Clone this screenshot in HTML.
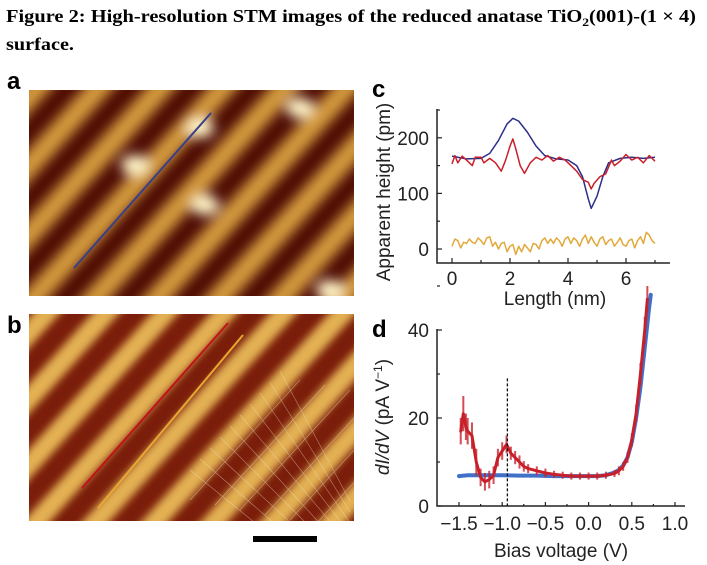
<!DOCTYPE html>
<html style="overflow:hidden"><head><meta charset="utf-8">
<style>
html,body{margin:0;padding:0;background:#fff;width:707px;height:565px;overflow:hidden}
svg{display:block;font-family:"Liberation Sans",sans-serif}
</style></head>
<body>
<svg id="fig" width="707" height="565" viewBox="0 0 707 565">
<defs>
<filter id="blurA" x="-10%" y="-10%" width="120%" height="120%"><feGaussianBlur stdDeviation="6"/></filter>
<filter id="blurB" x="-10%" y="-10%" width="120%" height="120%"><feGaussianBlur stdDeviation="4"/></filter>
<clipPath id="clipA"><rect x="29" y="90" width="325" height="206"/></clipPath>
<clipPath id="clipB"><rect x="29" y="314" width="325" height="207"/></clipPath>
</defs>
<text x="6" y="22" font-family="Liberation Serif,serif" font-weight="bold" font-size="18" textLength="690" lengthAdjust="spacingAndGlyphs">Figure 2: High-resolution STM images of the reduced anatase TiO<tspan font-size="12" dy="4">2</tspan><tspan dy="-4">(001)-(1 × 4)</tspan></text>
<text x="6" y="50" font-family="Liberation Serif,serif" font-weight="bold" font-size="18" textLength="68" lengthAdjust="spacingAndGlyphs">surface.</text>

<text x="7" y="89" font-weight="bold" font-size="24">a</text>
<text x="7" y="333" font-weight="bold" font-size="24">b</text>
<text x="372" y="97" font-weight="bold" font-size="24">c</text>
<text x="372" y="337" font-weight="bold" font-size="24">d</text>

<g id="imgA" clip-path="url(#clipA)">
<rect x="29" y="90" width="325" height="206" fill="#4e0c04"/>
<g id="stripesA" filter="url(#blurA)"></g>
<line x1="74" y1="268" x2="211" y2="113" stroke="#3a3f8a" stroke-width="2"/>
</g>
<g id="imgB" clip-path="url(#clipB)">
<rect x="29" y="314" width="325" height="207" fill="#7a1d0a"/>
<g id="stripesB" filter="url(#blurB)"></g>
<g id="gridB" stroke="#f3e6c8" stroke-width="0.6" opacity="0.5"></g>
<line x1="82" y1="488" x2="228" y2="323" stroke="#c0141a" stroke-width="2"/>
<line x1="98" y1="508" x2="243" y2="335" stroke="#e8a830" stroke-width="2"/>
</g>
<rect x="253" y="536" width="64" height="6" fill="#000"/>

<g id="chartC"></g>
<g id="chartD"></g>
</svg>
<script>
// ---------- chart c data ----------
const cBlueX=[0,0.5,1,1.3,1.6,1.9,2.1,2.3,2.6,2.9,3.2,3.6,4,4.3,4.5,4.7,4.8,5.0,5.2,5.4,5.8,6.2,6.6,7];
const cBlueY=[167,162,163,172,195,225,235,230,210,185,168,162,160,150,130,90,73,95,130,155,163,165,163,165];
const cRedX=[0,0.1,0.2,0.35,0.5,0.7,0.8,1.0,1.1,1.3,1.5,1.7,1.85,2.0,2.1,2.2,2.35,2.5,2.7,2.9,3.1,3.3,3.5,3.7,3.9,4.1,4.3,4.5,4.7,4.8,4.9,5.1,5.3,5.5,5.6,5.8,6.0,6.2,6.4,6.6,6.8,7.0];
const cRedY=[153,168,155,167,160,150,165,165,155,163,155,140,160,185,198,180,150,136,155,165,160,168,158,165,160,150,140,125,120,108,118,130,135,160,150,158,170,160,165,155,168,158];
const cYelY=[5,18,15,2,12,10,18,12,10,20,15,8,20,22,5,12,0,10,12,-5,5,8,-10,5,-5,8,2,-5,10,8,0,15,20,10,18,10,20,15,5,18,22,10,20,15,5,18,25,10,22,12,5,18,22,8,15,18,5,12,20,8,5,15,18,2,15,22,10,30,25,15,10];
const cXTicks=[0,2,4,6];
const cYTicks=[0,100,200];
// ---------- chart d data ----------
const dBlueX=[-1.5,-1.4,-1.3,-1.2,-1.1,-1.0,-0.8,-0.6,-0.4,-0.2,0,0.1,0.2,0.3,0.35,0.4,0.45,0.5,0.55,0.6,0.65,0.7,0.72];
const dBlueY=[6.8,7,7,7,7,7,6.9,6.9,6.8,6.8,6.8,6.8,7,7.6,8.2,9.2,11,14.5,20,27,36,45,48];
const dRedX=[-1.48,-1.45,-1.42,-1.4,-1.35,-1.3,-1.25,-1.2,-1.15,-1.1,-1.05,-1.0,-0.95,-0.9,-0.85,-0.8,-0.75,-0.7,-0.6,-0.5,-0.4,-0.3,-0.2,-0.1,0,0.1,0.2,0.3,0.35,0.4,0.45,0.5,0.55,0.6,0.65,0.68];
const dRedY=[17,21,18,17,16,10,6.5,5.5,6,7,11,12.5,14,12,11,10,9,8.5,8,7.5,7.2,7,6.8,6.8,6.8,6.8,7,7.4,8,9,11,15,21,30,40,47];
const dRedSpread=[3,4,3,3,3,3,2,2,2,2,2,2,2,1.5,1.5,1.5,1.2,1,1,1,0.8,0.8,0.8,0.8,0.8,0.8,0.8,0.8,1,1,1.2,1.5,2,2.5,3,3];
const dXTicks=[-1.5,-1.0,-0.5,0.0,0.5,1.0];
const dXTickLabels=["\u22121.5","\u22121.0","\u22120.5","0.0","0.5","1.0"];
const dYTicks=[0,20,40];
const dDash=-0.94;

const NS="http://www.w3.org/2000/svg";
function mk(tag,attrs,parent){const e=document.createElementNS(NS,tag);for(const k in attrs)e.setAttribute(k,attrs[k]);parent.appendChild(e);return e;}

// ---------- STM images (decorative) ----------
(function(){
  const gA=document.getElementById('stripesA');
  const gr=mk('g',{transform:'rotate(-48 190 193)'},gA);
  for(let i=-6;i<=6;i++){
    const r=mk('rect',{x:-200,y:193+i*46-11,width:780,height:22,rx:11,fill:'#d39a3c'},gr);
    
    
  }
  [[135,165],[200,128],[300,108],[205,205],[330,290]].forEach(p=>{
    const e=mk('ellipse',{cx:p[0],cy:p[1],rx:14,ry:10,fill:'#fff4c8'},gA);
    
    
  });
  const gB=document.getElementById('stripesB');
  const gb=mk('g',{transform:'rotate(-48 190 417)'},gB);
  for(let i=-6;i<=6;i++){
    const r=mk('rect',{x:-200,y:417+i*44-10,width:780,height:20,rx:10,fill:'#e3b152'},gb);
    
    
  }
  const gg=document.getElementById('gridB');
  for(let i=0;i<10;i++){
    const l=mk('line',{x1:190+i*10,y1:470-i*11,x2:350,y2:600-i*11},gg);
    
    
  }
  for(let i=0;i<6;i++){
    const l=mk('line',{x1:190+i*25,y1:500+i*5,x2:300+i*25,y2:380+i*5},gg);
    
    
  }
})();

// ---------- chart c ----------
(function(){
  const g=document.getElementById('chartC');
  const xC=v=>452+v*29, yC=v=>249-v*0.556;
  const ax=mk('path',{d:'M437 109 V263 H670',fill:'none',stroke:'#222','stroke-width':1.5},g);
   
  for(let v=0;v<=7;v++){
    const t=mk('line',{x1:xC(v),x2:xC(v),y1:263,y2:v%2?260:258,stroke:'#222','stroke-width':1.2},g);
     
  }
  cXTicks.forEach(v=>{
    const t=mk('text',{x:xC(v),y:285,'text-anchor':'middle','font-size':19,fill:'#222'},g);t.textContent=v;
     
  });
  for(let v=0;v<=250;v+=50){
    if(yC(v)<109)continue;
    const t=mk('line',{x1:437,x2:v%100?440:442,y1:yC(v),y2:yC(v),stroke:'#222','stroke-width':1.2},g);
     
  }
  cYTicks.forEach(v=>{
    const t=mk('text',{x:429,y:yC(v)+7,'text-anchor':'end','font-size':19,fill:'#222'},g);t.textContent=v;
     
  });
  const yl=mk('text',{x:0,y:0,transform:'translate(390 192) rotate(-90)','text-anchor':'middle','font-size':19,fill:'#222'},g);
  yl.textContent='Apparent height (pm)';
   
  const xl=mk('text',{x:555,y:305,'text-anchor':'middle','font-size':19,fill:'#222'},g);
  xl.textContent='Length (nm)';
   
  const line=(xs,ys,c,name)=>{
    const p=mk('polyline',{points:xs.map((x,i)=>xC(x)+','+yC(ys[i])).join(' '),fill:'none',stroke:c,'stroke-width':1.5,'stroke-linejoin':'round'},g);
     
  };
  line(cBlueX,cBlueY,'#2b2f88','series-blue');
  line(cRedX,cRedY,'#c8202a','series-red');
  line(cYelY.map((_,i)=>i*0.1),cYelY,'#e2a93a','series-yellow');
})();

// ---------- chart d ----------
(function(){
  const g=document.getElementById('chartD');
  const xD=v=>459+(v+1.5)*86.4, yD=v=>506-v*4.4;
  const ax=mk('path',{d:'M437 329 V506 H685',fill:'none',stroke:'#222','stroke-width':1.5},g);
   
  for(let v=-1.5;v<=1.01;v+=0.25){
    const t=mk('line',{x1:xD(v),x2:xD(v),y1:506,y2:Math.abs(v*2-Math.round(v*2))<0.01?502:504,stroke:'#222','stroke-width':1.2},g);
     
  }
  dXTicks.forEach((v,i)=>{
    const t=mk('text',{x:xD(v),y:530,'text-anchor':'middle','font-size':19,fill:'#222'},g);t.textContent=dXTickLabels[i];
     
  });
  for(let v=0;v<=50;v+=10){
    const t=mk('line',{x1:437,x2:v%20?440:442,y1:yD(v),y2:yD(v),stroke:'#222','stroke-width':1.2},g);
     
  }
  dYTicks.forEach(v=>{
    const t=mk('text',{x:429,y:yD(v)+7,'text-anchor':'end','font-size':19,fill:'#222'},g);t.textContent=v;
     
  });
  const yl=mk('text',{x:0,y:0,transform:'translate(389 417) rotate(-90)','text-anchor':'middle','font-size':19,fill:'#222'},g);
  yl.innerHTML='<tspan font-style="italic">dI/dV</tspan> (pA V<tspan font-size="12" dy="-7">\u22121</tspan><tspan dy="7">)</tspan>';
   
  const xl=mk('text',{x:561,y:557,'text-anchor':'middle','font-size':19,fill:'#222'},g);
  xl.textContent='Bias voltage (V)';
   
  const band=(xs,ys,sp,c,w,name)=>{
    const p=mk('polyline',{points:xs.map((x,i)=>xD(x)+','+yD(ys[i])).join(' '),fill:'none',stroke:c,'stroke-width':w,'stroke-linejoin':'round','stroke-linecap':'round'},g);
     
    if(sp){
      xs.forEach((x,i)=>{
        const r=mk('rect',{x:xD(x)-1,y:yD(ys[i]+sp[i]),width:2,height:sp[i]*8.8,fill:c,opacity:0.8},g);
         
      });
    }
  };
  band(dBlueX,dBlueY,null,'#4070c8',4,'series-blue');
  band(dRedX,dRedY,dRedSpread,'#c8202a',3,'series-red');
  const dl=mk('line',{x1:xD(dDash),x2:xD(dDash),y1:yD(29),y2:506,stroke:'#111','stroke-width':1.3,'stroke-dasharray':'3,2'},g);
   
})();
</script>
</body></html>
